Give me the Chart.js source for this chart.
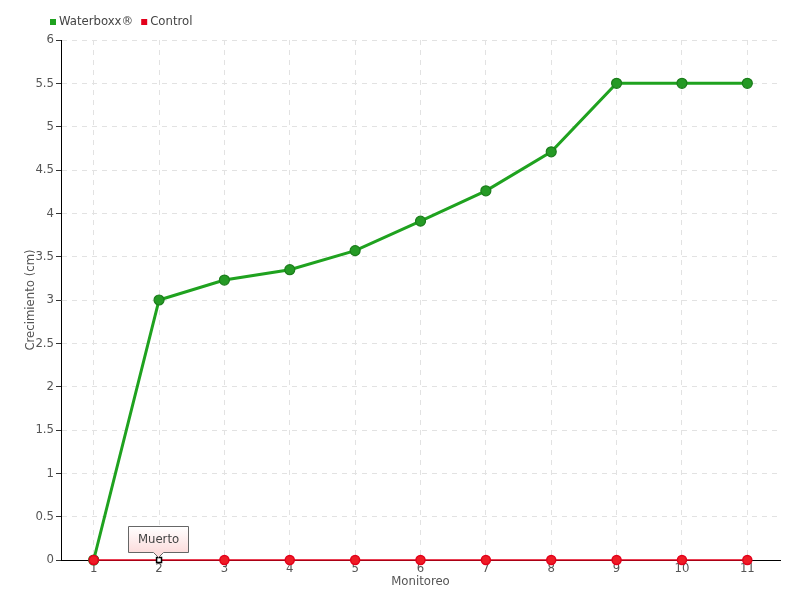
<!DOCTYPE html>
<html><head><meta charset="utf-8">
<script src="https://cdn.jsdelivr.net/npm/chart.js@4/dist/chart.umd.min.js"></script>
<style>html,body{margin:0;padding:0;background:#fff}#wrap{width:800px;height:600px}</style>
</head><body><div id="wrap"><canvas id="c" width="800" height="600"></canvas></div>
<script>
const categories = ['1','2','3','4','5','6','7','8','9','10','11'];
const waterboxx = [0, 3.0, 3.23, 3.35, 3.57, 3.91, 4.26, 4.71, 5.5, 5.5, 5.5];
const control = [0, 0, 0, 0, 0, 0, 0, 0, 0, 0, 0];
const yTicks = [0, 0.5, 1, 1.5, 2, 2.5, 3, 3.5, 4, 4.5, 5, 5.5, 6];
const seriesNames = ['Waterboxx®', 'Control'];
const annotationIndex = 1;
const annotationText = 'Muerto';

const FONT = '"DejaVu Sans Condensed", "Liberation Sans Narrow", "Roboto", sans-serif';
const FS = 13;
const green = '#1fa21f', red = '#e3001b';

const legendPlugin = {
  id: 'customLegend',
  afterDraw(chart) {
    const ctx = chart.ctx;
    ctx.save();
    ctx.font = FS + 'px ' + FONT;
    ctx.textBaseline = 'middle';
    let x = 50;
    const y = 22;
    const cols = [green, red];
    seriesNames.forEach((n, i) => {
      ctx.fillStyle = cols[i];
      ctx.fillRect(x, y - 3, 6, 6);
      ctx.fillStyle = '#444';
      ctx.fillText(n, x + 9, y);
      x += 9 + ctx.measureText(n).width + 8;
    });
    ctx.restore();
  }
};

const annotPlugin = {
  id: 'annot',
  afterDatasetsDraw(chart) {
    const ctx = chart.ctx;
    const xs = chart.scales.x, ys = chart.scales.y;
    const px = Math.round(xs.getPixelForValue(annotationIndex)) - 0.5;
    const py = ys.getPixelForValue(control[annotationIndex]);
    ctx.save();
    ctx.font = FS + 'px ' + FONT;
    const w = 60, h = 26;
    const left = px - 30, top = Math.round(py - 34) + 0.5;
    const bottom = top + h;
    const g = ctx.createLinearGradient(0, top, 0, bottom);
    g.addColorStop(0, '#ffffff');
    g.addColorStop(1, '#fcdcdc');
    ctx.beginPath();
    ctx.moveTo(left, top);
    ctx.lineTo(left + w, top);
    ctx.lineTo(left + w, bottom);
    ctx.lineTo(px + 5, bottom);
    ctx.lineTo(px, bottom + 5);
    ctx.lineTo(px - 5, bottom);
    ctx.lineTo(left, bottom);
    ctx.closePath();
    ctx.fillStyle = g;
    ctx.fill();
    ctx.strokeStyle = '#666';
    ctx.lineWidth = 1;
    ctx.stroke();
    ctx.fillStyle = '#444';
    ctx.textAlign = 'center';
    ctx.textBaseline = 'middle';
    ctx.fillText(annotationText, left + w / 2, top + h / 2 + 0.5);
    ctx.restore();
  }
};

const ctrlStyles = control.map((v, i) => i === annotationIndex ? 'rect' : 'circle');
const ctrlBg = control.map((v, i) => i === annotationIndex ? '#ffffff' : '#ee1c25');
const ctrlBorder = control.map((v, i) => i === annotationIndex ? '#000000' : '#e3001b');
const ctrlRadius = control.map((v, i) => i === annotationIndex ? 3.5 : 4.5);

new Chart(document.getElementById('c'), {
  type: 'line',
  data: {
    labels: categories,
    datasets: [
      {
        label: seriesNames[0], data: waterboxx, order: 2,
        borderColor: green, borderWidth: 3,
        pointBackgroundColor: '#259a25', pointBorderColor: '#1b7d1b', pointBorderWidth: 1.2,
        pointRadius: 5, tension: 0, clip: false
      },
      {
        label: seriesNames[1], data: control, order: 1,
        borderColor: red, borderWidth: 1.5,
        pointStyle: ctrlStyles, pointBackgroundColor: ctrlBg, pointBorderColor: ctrlBorder,
        pointBorderWidth: 1.5, pointRadius: ctrlRadius, tension: 0, clip: false
      }
    ]
  },
  options: {
    responsive: false,
    animation: false,
    layout: { padding: { top: 40, left: 0, right: 20, bottom: 0 } },
    plugins: { legend: { display: false }, tooltip: { enabled: false } },
    scales: {
      x: {
        offset: true,
        afterFit: s => { s.height = 40; },
        border: { color: '#000', width: 1, dash: [5, 5] },
        grid: { offset: false, color: '#e2e2e2', drawTicks: false },
        ticks: { color: '#555', font: { family: FONT, size: FS }, padding: 1, maxRotation: 0 },
        title: { display: true, text: 'Monitoreo', color: '#555', font: { family: FONT, size: FS }, padding: { top: 0, bottom: 11 } }
      },
      y: {
        min: 0, max: 6,
        afterFit: s => { s.width = 61; },
        afterBuildTicks: s => { s.ticks = yTicks.map(v => ({ value: v })); },
        border: { color: '#000', width: 1, dash: [5, 5] },
        grid: { color: '#e2e2e2', tickLength: 5, tickColor: '#333', tickBorderDash: [] },
        ticks: { color: '#555', font: { family: FONT, size: FS }, padding: 2, callback: v => String(v) },
        title: { display: true, text: 'Crecimiento (cm)', color: '#555', font: { family: FONT, size: FS }, padding: { top: 23, bottom: 0 } }
      }
    }
  },
  plugins: [legendPlugin, annotPlugin]
});
</script>
</body></html>
